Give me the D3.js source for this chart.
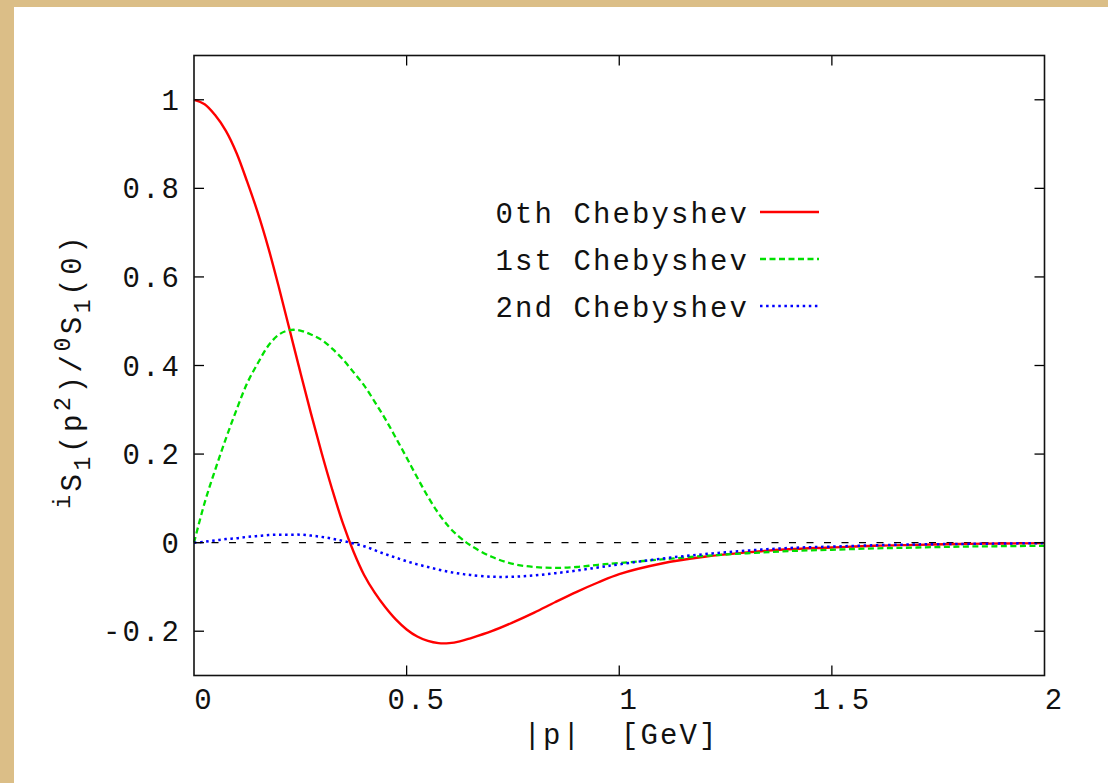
<!DOCTYPE html>
<html lang="en">
<head>
  <title>Chebyshev moments</title>
  <style>
    body { margin: 0; background: #dbbe87; }
    svg { display: block; }
    text { font-family: "Liberation Mono", "Courier New", monospace; fill: #111; white-space: pre; }
  </style>
</head>
<body>
  <script src="https://cdn.jsdelivr.net/npm/d3@7"></script>
  <svg></svg>
  <script>

// momentum |p| in GeV (shared grid for all three curves)
var pValues = [0, 0.025, 0.05, 0.075, 0.1, 0.125, 0.15, 0.175, 0.2, 0.225, 0.25, 0.275, 0.3,
  0.325, 0.35, 0.375, 0.4, 0.425, 0.45, 0.475, 0.5, 0.525, 0.55, 0.575, 0.6, 0.625, 0.65, 0.7, 0.75, 0.8, 0.85, 0.9, 0.95,
  1.0, 1.1, 1.2, 1.3, 1.4, 1.5, 1.6, 1.7, 1.8, 1.9, 2.0];

// 0th Chebyshev moment
var cheb0 = [1.0, 0.99, 0.965, 0.93, 0.88, 0.815, 0.745, 0.665, 0.575, 0.48, 0.385, 0.292, 0.203,
  0.12, 0.044, -0.02, -0.073, -0.113, -0.146, -0.174, -0.196, -0.212, -0.222, -0.227, -0.227, -0.223, -0.216, -0.2, -0.18, -0.158, -0.134, -0.111, -0.09,
  -0.071, -0.047, -0.032, -0.022, -0.015, -0.011, -0.007, -0.005, -0.003, -0.002, -0.001];

// 1st Chebyshev moment
var cheb1 = [0, 0.09, 0.165, 0.235, 0.3, 0.36, 0.405, 0.445, 0.47, 0.48, 0.479, 0.47, 0.458,
  0.438, 0.414, 0.385, 0.355, 0.318, 0.279, 0.236, 0.192, 0.147, 0.104, 0.066, 0.035, 0.012, -0.006, -0.032, -0.048, -0.055, -0.057, -0.055, -0.05,
  -0.046, -0.038, -0.03, -0.024, -0.019, -0.016, -0.013, -0.011, -0.009, -0.008, -0.007];

// 2nd Chebyshev moment
var cheb2 = [0, 0.002, 0.005, 0.008, 0.01, 0.013, 0.015, 0.017, 0.018, 0.018, 0.018, 0.016, 0.013,
  0.009, 0.004, -0.002, -0.008, -0.017, -0.026, -0.034, -0.042, -0.049, -0.055, -0.061, -0.066, -0.07, -0.073, -0.077, -0.077, -0.074, -0.069, -0.063, -0.056,
  -0.049, -0.036, -0.026, -0.018, -0.012, -0.009, -0.006, -0.004, -0.003, -0.002, -0.001];

var seriesNames = ['0th Chebyshev', '1st Chebyshev', '2nd Chebyshev'];

var xTicks = [0, 0.5, 1, 1.5, 2];
var xTickLabels = ['0', '0.5', '1', '1.5', '2'];
var yTicks = [-0.2, 0, 0.2, 0.4, 0.6, 0.8, 1];
var yTickLabels = ['-0.2', '0', '0.2', '0.4', '0.6', '0.8', '1'];

var width = 1108, height = 783;
var margins = {top: 55.5, right: 63.5, bottom: 107.5, left: 194};
var plotW = width - margins.left - margins.right;
var plotH = height - margins.top - margins.bottom;
var fontSize = 29, spacing = 2.1; // courier-ish look, ~19.5px per character

var svg = d3.select('svg')
            .attr('width', width)
            .attr('height', height);

// white sheet on the tan background
svg.append('rect')
   .attr('x', 14).attr('y', 7)
   .attr('width', width - 14).attr('height', height - 7)
   .attr('fill', 'white');

var xScale = d3.scaleLinear().domain([0, 2]).range([0, plotW]);
var yScale = d3.scaleLinear().domain([-0.3, 1.1]).range([plotH, 0]);

var g = svg.append('g')
   .attr('transform', 'translate(' + margins.left + ',' + margins.top + ')');

// zero reference line
g.append('line')
   .attr('x1', xScale(0)).attr('x2', xScale(2))
   .attr('y1', yScale(0)).attr('y2', yScale(0))
   .attr('stroke', 'black')
   .attr('stroke-width', 1.2)
   .attr('stroke-dasharray', '7,10.5');

// curves
var styles = [
  {color: '#ff0000', dash: null, w: 2.4},
  {color: '#00e000', dash: '6,3.5', w: 2.3},
  {color: '#0000ff', dash: '2.5,3.6', w: 2.5}
];
var allSeries = [cheb0, cheb1, cheb2];

var line = d3.line()
   .x(function(d, i) { return xScale(pValues[i]); })
   .y(function(d) { return yScale(d); })
   .curve(d3.curveCatmullRom.alpha(0.5));

g.selectAll('path.curve')
   .data(allSeries)
   .enter()
   .append('path')
   .attr('class', 'curve')
   .attr('d', line)
   .attr('fill', 'none')
   .attr('stroke', function(d, i) { return styles[i].color; })
   .attr('stroke-width', function(d, i) { return styles[i].w; })
   .attr('stroke-dasharray', function(d, i) { return styles[i].dash; });

// ticks, mirrored on all four sides (gnuplot style)
var tickLen = 10;
g.selectAll('line.xt')
   .data(xTicks.slice(1, -1))
   .enter().append('line')
   .attr('x1', function(d) { return xScale(d); })
   .attr('x2', function(d) { return xScale(d); })
   .attr('y1', plotH).attr('y2', plotH - tickLen)
   .attr('stroke', 'black').attr('stroke-width', 1.3);
g.selectAll('line.xt2')
   .data(xTicks.slice(1, -1))
   .enter().append('line')
   .attr('x1', function(d) { return xScale(d); })
   .attr('x2', function(d) { return xScale(d); })
   .attr('y1', 0).attr('y2', tickLen)
   .attr('stroke', 'black').attr('stroke-width', 1.3);
g.selectAll('line.yt')
   .data(yTicks)
   .enter().append('line')
   .attr('x1', 0).attr('x2', tickLen)
   .attr('y1', function(d) { return yScale(d); })
   .attr('y2', function(d) { return yScale(d); })
   .attr('stroke', 'black').attr('stroke-width', 1.3);
g.selectAll('line.yt2')
   .data(yTicks)
   .enter().append('line')
   .attr('x1', plotW).attr('x2', plotW - tickLen)
   .attr('y1', function(d) { return yScale(d); })
   .attr('y2', function(d) { return yScale(d); })
   .attr('stroke', 'black').attr('stroke-width', 1.3);

// frame
g.append('rect')
   .attr('width', plotW).attr('height', plotH)
   .attr('fill', 'none')
   .attr('stroke', '#111')
   .attr('stroke-width', 1.6);

// tick labels
g.selectAll('text.xl')
   .data(xTicks)
   .enter().append('text')
   .attr('x', function(d) { return xScale(d) + 9 + spacing / 2; })
   .attr('y', plotH + 33)
   .attr('text-anchor', 'middle')
   .attr('font-size', fontSize)
   .attr('letter-spacing', spacing)
   .text(function(d, i) { return xTickLabels[i]; });

g.selectAll('text.yl')
   .data(yTicks)
   .enter().append('text')
   .attr('x', -15 + spacing)
   .attr('y', function(d) { return yScale(d) + 10; })
   .attr('text-anchor', 'end')
   .attr('font-size', fontSize)
   .attr('letter-spacing', spacing)
   .text(function(d, i) { return yTickLabels[i]; });

// axis titles
svg.append('text')
   .attr('x', 620 + spacing / 2)
   .attr('y', 744)
   .attr('text-anchor', 'middle')
   .attr('font-size', fontSize)
   .attr('letter-spacing', spacing)
   .text('|p|  [GeV]');

var ySpacing = 3.6;
var ylab = svg.append('text')
   .attr('transform', 'translate(81,' + (369 + ySpacing / 2) + ') rotate(-90)')
   .attr('text-anchor', 'middle')
   .attr('font-size', fontSize)
   .attr('letter-spacing', ySpacing);
// i S_1 (p^2) / 0 S_1 (0)
var small = 23;
ylab.append('tspan').attr('font-size', small).attr('dy', -11).text('i');
ylab.append('tspan').attr('dy', 11).text('S');
ylab.append('tspan').attr('font-size', small).attr('dy', 9).text('1');
ylab.append('tspan').attr('dy', -9).text('(p');
ylab.append('tspan').attr('font-size', small).attr('dy', -11).text('2');
ylab.append('tspan').attr('dy', 11).text(')/');
ylab.append('tspan').attr('font-size', small).attr('dy', -11).text('0');
ylab.append('tspan').attr('dy', 11).text('S');
ylab.append('tspan').attr('font-size', small).attr('dy', 9).text('1');
ylab.append('tspan').attr('dy', -9).text('(0)');

// legend (key) top right of the curves
var legendRows = [212, 259, 306];
var key = svg.append('g');
key.selectAll('text')
   .data(seriesNames)
   .enter().append('text')
   .attr('x', 747 + spacing)
   .attr('y', function(d, i) { return legendRows[i] + 11; })
   .attr('text-anchor', 'end')
   .attr('font-size', fontSize)
   .attr('letter-spacing', spacing)
   .text(function(d) { return d; });
key.selectAll('line')
   .data(seriesNames)
   .enter().append('line')
   .attr('x1', 760).attr('x2', 819)
   .attr('y1', function(d, i) { return legendRows[i]; })
   .attr('y2', function(d, i) { return legendRows[i]; })
   .attr('stroke', function(d, i) { return styles[i].color; })
   .attr('stroke-width', function(d, i) { return styles[i].w; })
   .attr('stroke-dasharray', function(d, i) { return styles[i].dash; });

  </script>
</body>
</html>
